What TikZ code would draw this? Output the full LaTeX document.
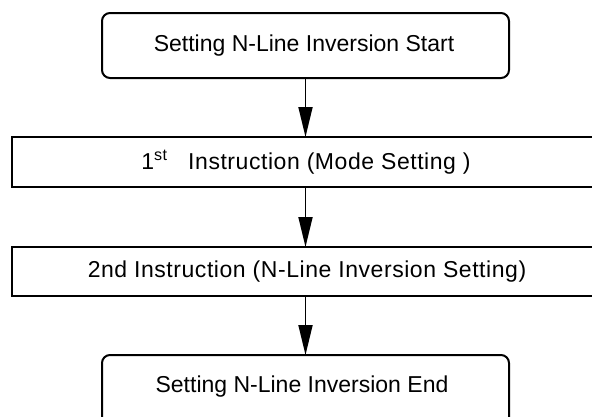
\documentclass[tikz,border=0pt]{standalone}
\usepackage{fontspec}
\setmainfont{Liberation Sans}
\usetikzlibrary{arrows.meta}
\begin{document}
\begin{tikzpicture}[x=1pt,y=-1pt,
  rbox/.style={draw,line width=2pt,rounded corners=8pt},
  sbox/.style={draw,line width=2pt},
  lbl/.style={font=\fontsize{23}{27}\selectfont,inner sep=0pt},
  wide/.style={font=\fontsize{23}{27}\selectfont\addfontfeature{LetterSpace=2.4},inner sep=0pt},
  flow/.style={line width=1.8pt,-{Triangle[length=30pt,width=14pt]}}]
\clip (0,0) rectangle (592,416);
\useasboundingbox (0,0) rectangle (592,416);
\path[fill=white] (0,0) rectangle (592,416);
% boxes
\draw[rbox] (102,13) rectangle (509,78);
\draw[sbox] (12,137) rectangle (620,187);
\draw[sbox] (12,247) rectangle (620,296);
\draw[rbox] (102,355) rectangle (509,425);
% named anchors
\coordinate (s) at (305.5,78);
\coordinate (a1) at (305.5,137);
\coordinate (b1) at (305.5,187);
\coordinate (a2) at (305.5,247);
\coordinate (b2) at (305.5,296);
\coordinate (e) at (305.5,355);
\node[lbl] (ts) at (304,46) {Setting N-Line Inversion Start};
\node[wide] (t1) at (306,162) {1\textsuperscript{st}\hspace{0.9em}Instruction (Mode Setting )};
\node[wide] (t2) at (307,272) {2nd Instruction (N-Line Inversion Setting)};
\node[lbl] (te) at (302,387) {Setting N-Line Inversion End};
\draw[flow] (s) -- (a1);
\draw[flow] (b1) -- (a2);
\draw[flow] (b2) -- (e);
\end{tikzpicture}
\end{document}
